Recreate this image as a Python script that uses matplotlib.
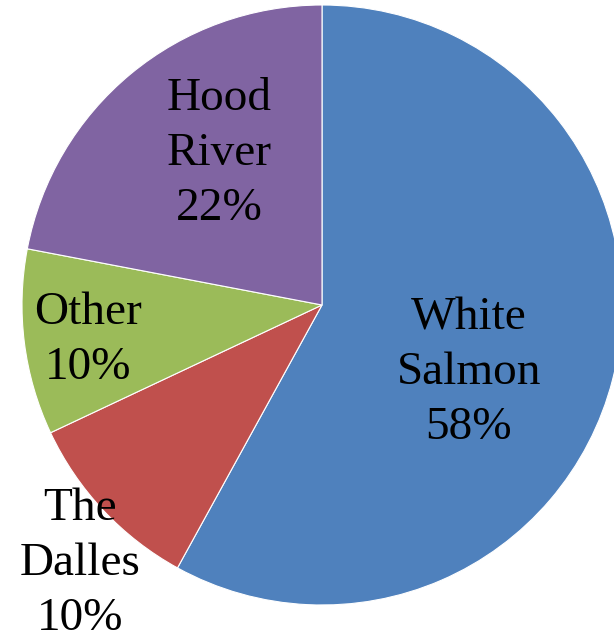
import numpy as np
import matplotlib.pyplot as plt

plt.rcParams['font.family'] = ['Liberation Serif', 'DejaVu Serif']

labels = ['White\nSalmon', 'The\nDalles', 'Other', 'Hood\nRiver']
shares = [58, 10, 10, 22]
colors = ['#4F81BD', '#C0504D', '#9BBB59', '#8064A2']
# radial position of each label (fraction of radius) and angle nudge in degrees
label_r = [0.54, 1.18, 0.79, 0.61]
label_nudge = [-10.5, 3.7, 1.4, -5.5]

fig = plt.figure(figsize=(6.14, 6.33), dpi=100)
ax = fig.add_axes([0, 0, 1, 1])
cx, cy, R = 322, 633 - 305, 300
wedges, _ = ax.pie(shares, colors=colors, startangle=90, counterclock=False,
                   center=(cx, cy), radius=R, frame=True,
                   wedgeprops=dict(edgecolor='white', linewidth=0.8))
ax.set_xlim(0, 614)
ax.set_ylim(0, 633)
ax.set_aspect('equal')
ax.axis('off')

for w, lab, s, fr, nd in zip(wedges, labels, shares, label_r, label_nudge):
    mid = np.deg2rad((w.theta1 + w.theta2) / 2 + nd)
    x = cx + fr * R * np.cos(mid)
    y = cy + fr * R * np.sin(mid)
    ax.text(x, y, f'{lab}\n{s}%', ha='center', va='center', fontsize=34,
            linespacing=1.38, color='black')

fig.savefig('out.png', dpi=100)
